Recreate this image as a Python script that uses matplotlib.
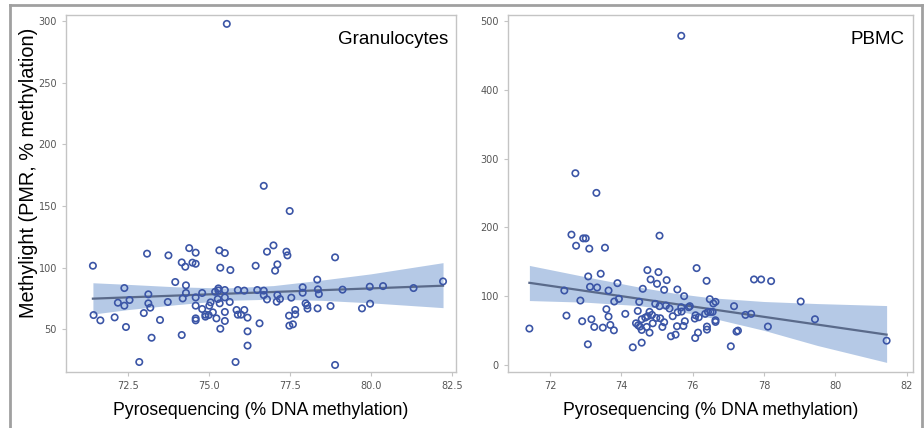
"""Methylight vs pyrosequencing scatter, granulocytes and PBMC."""
import numpy as np
import matplotlib
matplotlib.use("Agg")
import matplotlib.pyplot as plt
from matplotlib.lines import Line2D

# Granulocytes: pyrosequencing (% DNA methylation) vs Methylight (PMR)
gran_x = [71.43, 71.45, 71.66, 72.1, 72.2, 72.4, 72.4, 72.45, 72.56, 73.0,
          73.1, 73.14, 73.14, 73.2, 73.24, 72.86, 73.5, 73.74, 73.76, 73.97,
          74.17, 74.2, 74.17, 74.28, 74.3, 74.3, 74.4, 74.5, 74.6, 74.6,
          74.6, 74.6, 74.6, 74.6, 74.8, 74.8, 74.9, 74.9, 75.0, 75.02,
          75.06, 75.13, 75.2, 75.24, 75.28, 75.3, 75.3, 75.33, 75.36, 75.34,
          75.36, 75.5, 75.5, 75.5, 75.5, 75.5, 75.65, 75.67, 75.83, 75.86,
          75.9, 75.9, 76.0, 76.1, 76.1, 76.2, 76.2, 76.2, 76.45, 76.5,
          76.57, 76.7, 76.7, 76.8, 76.8, 77.0, 77.05, 77.12, 77.12, 77.1,
          77.2, 77.4, 77.43, 77.5, 77.55, 77.48, 77.49, 77.6, 77.67, 77.67,
          77.9, 77.9, 77.99, 78.04, 78.05, 78.35, 78.37, 78.4, 78.36, 78.76,
          78.9, 78.9, 79.13, 79.73, 79.97, 79.98, 80.38, 81.32, 82.23, 75.56,
          76.7]
gran_y = [101.6, 61.6, 57.3, 59.7, 71.6, 83.5, 69.2, 51.9, 73.8, 63.2,
          111.4, 78.4, 71.1, 67.6, 43.2, 23.5, 57.6, 72.2, 110.0, 88.4,
          104.3, 75.1, 45.4, 100.8, 85.7, 79.5, 115.9, 104.1, 103.2, 112.2,
          75.9, 69.2, 58.9, 57.3, 79.5, 66.5, 61.9, 60.3, 61.6, 69.2,
          71.9, 63.8, 80.5, 58.9, 74.6, 83.2, 81.6, 114.1, 100.0, 71.1,
          50.5, 64.1, 56.8, 111.9, 81.9, 75.9, 72.2, 98.1, 23.5, 65.7,
          81.9, 61.9, 61.9, 81.4, 65.7, 48.4, 59.5, 36.8, 101.6, 81.9,
          54.9, 81.4, 77.8, 74.3, 113.0, 118.1, 97.6, 102.7, 77.8, 72.4,
          74.6, 113.0, 110.0, 146.0, 75.7, 61.1, 53.0, 54.1, 65.7, 62.2,
          84.1, 79.7, 71.1, 69.5, 66.8, 90.3, 82.4, 78.6, 67.0, 68.9,
          108.4, 21.1, 82.2, 67.0, 84.6, 70.8, 85.1, 83.5, 88.9, 297.8,
          166.4]

# PBMC
pbmc_x = [71.42, 72.4, 72.46, 72.6, 72.73, 72.85, 72.9, 72.93, 73.0, 73.07,
          73.06, 73.1, 73.12, 73.16, 73.24, 73.32, 73.42, 73.48, 73.54, 73.58,
          73.64, 73.64, 73.69, 73.79, 73.8, 73.89, 73.93, 74.11, 74.32, 74.41,
          74.46, 74.47, 74.5, 74.52, 74.57, 74.57, 74.57, 74.6, 74.67, 74.71,
          74.73, 74.74, 74.79, 74.79, 74.82, 74.86, 74.88, 74.95, 74.98, 75.0,
          75.04, 75.07, 75.07, 75.09, 75.15, 75.2, 75.2, 75.25, 75.27, 75.35,
          75.39, 75.44, 75.52, 75.56, 75.57, 75.58, 75.68, 75.69, 75.74, 75.76,
          75.78, 75.89, 75.92, 76.06, 76.07, 76.08, 76.11, 76.15, 76.17, 76.35,
          76.39, 76.4, 76.4, 76.43, 76.48, 76.5, 76.56, 76.58, 76.64, 76.64,
          76.64, 77.07, 77.16, 77.23, 77.27, 77.48, 77.64, 77.72, 77.92, 78.11,
          78.2, 79.03, 79.43, 81.44, 75.68, 72.71, 73.3]
pbmc_y = [52.6, 108.0, 71.5, 189.3, 173.2, 93.4, 63.3, 183.9, 183.9, 128.5,
          29.7, 168.9, 113.4, 66.2, 55.0, 112.4, 132.4, 54.0, 170.3, 80.8,
          108.0, 70.1, 57.9, 50.1, 92.0, 118.7, 95.9, 74.0, 25.3, 60.3,
          78.3, 57.4, 91.5, 55.5, 66.2, 50.6, 32.1, 110.5, 68.6, 55.0,
          137.7, 70.6, 46.7, 76.9, 124.1, 72.5, 60.3, 88.6, 68.1, 117.8,
          134.8, 187.8, 85.2, 67.6, 55.0, 109.0, 61.8, 86.1, 123.1, 81.8,
          41.4, 70.6, 43.8, 56.0, 109.5, 76.4, 83.7, 77.4, 56.4, 99.8,
          63.3, 83.7, 85.2, 67.2, 38.9, 72.0, 140.6, 46.7, 69.1, 74.0,
          122.1, 55.5, 51.1, 76.9, 95.4, 76.9, 76.9, 89.1, 91.5, 62.3,
          64.7, 26.8, 85.2, 48.2, 49.6, 72.5, 74.0, 124.1, 124.1, 55.5,
          121.7, 92.0, 66.2, 35.0, 478.7, 278.7, 250.1]

# fitted line and 95% band
gran_fit_x = [71.43, 82.23]
gran_fit_y = [74.9, 85.4]
gran_band_x = [71.43, 72.5, 74.0, 75.5, 77.0, 78.5, 80.0, 82.23]
gran_band_lo = [62.4, 66.0, 70.0, 73.5, 74.5, 73.5, 71.5, 67.6]
gran_band_hi = [87.8, 86.5, 84.5, 83.5, 85.5, 90.0, 95.0, 104.1]

pbmc_fit_x = [71.42, 81.44]
pbmc_fit_y = [119.2, 43.8]
pbmc_band_x = [71.42, 73.0, 74.5, 75.5, 76.5, 78.0, 79.5, 81.44]
pbmc_band_lo = [93.4, 91.0, 86.0, 79.0, 68.5, 50.0, 28.0, 3.4]
pbmc_band_hi = [144.5, 128.0, 113.0, 104.0, 97.5, 92.0, 89.0, 86.1]

MARKER = "#3b55a6"
LINE = "#5a6a8a"
BAND = "#a8c0e2"
FRAME = "#c4c4c4"
TICKC = "#555555"
TICKFONT = ["Liberation Sans Narrow", "DejaVu Sans"]

plt.rcParams["font.family"] = ["Liberation Sans", "DejaVu Sans"]

fig = plt.figure(figsize=(9.24, 4.28), dpi=100)
ax1 = fig.add_axes([66 / 924, 56 / 428, 390 / 924, 357 / 428])
ax2 = fig.add_axes([508 / 924, 56 / 428, 405 / 924, 357 / 428])


def draw_panel(ax, x, y, fx, fy, bx, blo, bhi, label):
    ax.fill_between(bx, blo, bhi, color=BAND, alpha=0.85, linewidth=0, zorder=1)
    ax.plot(fx, fy, color=LINE, linewidth=1.6, zorder=2)
    ax.scatter(x, y, s=21, facecolors="none", edgecolors=MARKER, linewidths=1.2, zorder=3)
    ax.text(0.98, 0.955, label, transform=ax.transAxes, ha="right", va="top", fontsize=13.5)
    for sp in ax.spines.values():
        sp.set_color(FRAME)
        sp.set_linewidth(1.0)
    ax.tick_params(colors=FRAME, labelcolor=TICKC, labelsize=7, length=3, width=0.8)
    ax.set_xlabel("Pyrosequencing (% DNA methylation)", fontsize=12.7, labelpad=8)


draw_panel(ax1, gran_x, gran_y, gran_fit_x, gran_fit_y, gran_band_x, gran_band_lo,
           gran_band_hi, "Granulocytes")
ax1.set_xlim(70.6, 82.63)
ax1.set_ylim(15.4, 305)
ax1.set_xticks([72.5, 75.0, 77.5, 80.0, 82.5])
ax1.set_xticklabels(["72.5", "75.0", "77.5", "80.0", "82.5"], family=TICKFONT)
ax1.set_yticks([50, 100, 150, 200, 250, 300])
ax1.set_yticklabels(["50", "100", "150", "200", "250", "300"], family=TICKFONT)
ax1.set_ylabel("Methylight (PMR, % methylation)", fontsize=14.3)
ax1.yaxis.set_label_coords(-0.072, 0.557)

draw_panel(ax2, pbmc_x, pbmc_y, pbmc_fit_x, pbmc_fit_y, pbmc_band_x, pbmc_band_lo,
           pbmc_band_hi, "PBMC")
ax2.set_xlim(70.82, 82.18)
ax2.set_ylim(-10.6, 509)
ax2.set_xticks([72, 74, 76, 78, 80, 82])
ax2.set_xticklabels(["72", "74", "76", "78", "80", "82"], family=TICKFONT)
ax2.set_yticks([0, 100, 200, 300, 400, 500])
ax2.set_yticklabels(["0", "100", "200", "300", "400", "500"], family=TICKFONT)

# outer grey frame of the composite image
fx0, fx1, fy1 = 10 / 924, 921.5 / 924, 1 - 5 / 428
for xs, ys in [([fx0, fx0], [0, fy1]), ([fx0, fx1], [fy1, fy1]), ([fx1, fx1], [fy1, 0])]:
    fig.add_artist(Line2D(xs, ys, transform=fig.transFigure, color="#a0a0a0", linewidth=2))

fig.savefig("out.png", dpi=100)
plt.close(fig)
